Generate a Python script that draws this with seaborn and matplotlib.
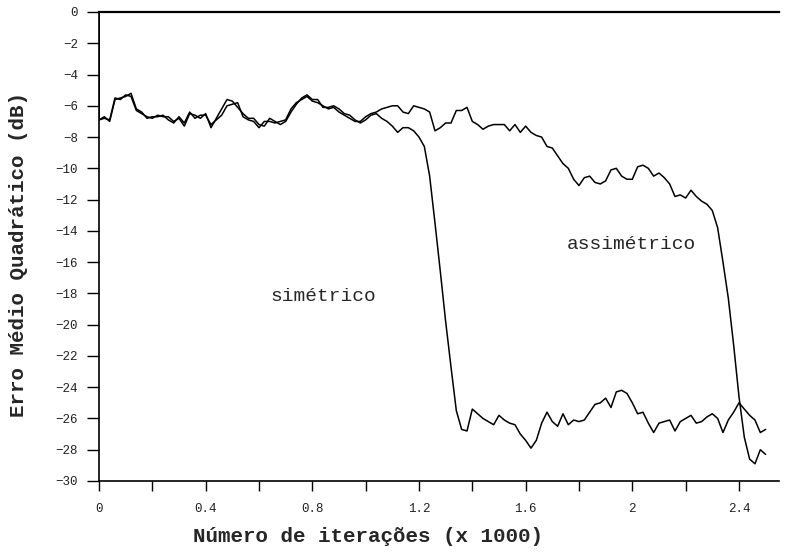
import numpy as np
import pandas as pd
import matplotlib
matplotlib.use("Agg")
import matplotlib.pyplot as plt
import seaborn as sns
from matplotlib.ticker import MultipleLocator, FuncFormatter

# ---- data (dB vs iterations x1000) ----
passo = 0.02
iteracoes = np.round(np.arange(0, 2.5 + passo / 2, passo), 2)

simetrico_inicio = [-6.9, -6.8, -6.9, -5.5, -5.6, -5.3, -5.4, -6.3, -6.5, -6.7,
                    -6.8, -6.6, -6.7, -6.7, -7.0, -6.8, -7.3, -6.5, -6.6, -6.8,
                    -6.5, -7.4, -6.8, -6.2, -5.6, -5.7, -6.1, -6.5, -6.8, -6.8,
                    -7.2, -7.3, -6.8, -7.0, -7.2, -7.0, -6.4, -5.9, -5.5, -5.3,
                    -5.6, -5.6, -6.1, -6.1, -6.0, -6.2, -6.5, -6.6, -6.9, -7.1,
                    -6.9, -6.6, -6.5]
simetrico_fim = [-6.8, -7.0, -7.3, -7.7, -7.4, -7.4, -7.6, -8.0, -8.6, -10.5,
                 -13.5, -16.6, -19.8, -22.7, -25.5, -26.7, -26.8, -25.4, -25.7, -26.0,
                 -26.2, -26.4, -25.8, -26.1, -26.3, -26.4, -27.0, -27.4, -27.9, -27.4,
                 -26.3, -25.6, -26.2, -26.5, -25.7, -26.4, -26.1, -26.2, -26.1, -25.6,
                 -25.1, -25.0, -24.7, -25.3, -24.3, -24.2, -24.4, -25.0, -25.7, -25.6,
                 -26.3, -26.9, -26.3, -26.2, -26.1, -26.8, -26.2, -26.0, -25.8, -26.3,
                 -26.2, -25.9, -25.7, -26.0, -26.9, -26.1, -25.6, -25.0, -25.4, -25.8,
                 -26.1, -26.9, -26.7]

assimetrico_inicio = [-6.9, -6.7, -7.0, -5.6, -5.5, -5.4, -5.2, -6.2, -6.4, -6.8,
                      -6.7, -6.7, -6.6, -6.9, -7.1, -6.7, -7.1, -6.4, -6.8, -6.6,
                      -6.6, -7.2, -6.9, -6.6, -6.0, -5.9, -5.8, -6.7, -6.9, -7.0,
                      -7.4, -7.0, -7.0, -7.1, -7.0, -6.9, -6.2, -5.8, -5.6, -5.4,
                      -5.7, -5.8, -6.0, -6.2, -6.1, -6.4, -6.6, -6.8, -7.0, -7.0,
                      -6.7, -6.5, -6.4]
assimetrico_fim = [-6.2, -6.1, -6.0, -6.0, -6.4, -6.5, -6.0, -6.1, -6.2, -6.4,
                   -7.6, -7.4, -7.1, -7.1, -6.3, -6.3, -6.1, -7.0, -7.2, -7.5,
                   -7.3, -7.2, -7.2, -7.2, -7.6, -7.2, -7.7, -7.3, -7.7, -7.9,
                   -8.0, -8.6, -8.7, -9.2, -9.7, -10.0, -10.7, -11.1, -10.6, -10.5,
                   -10.9, -11.0, -10.8, -10.1, -10.0, -10.5, -10.7, -10.7, -9.9, -9.8,
                   -10.0, -10.5, -10.3, -10.6, -11.0, -11.8, -11.7, -11.9, -11.4, -11.8,
                   -12.1, -12.3, -12.7, -13.8, -16.0, -18.3, -21.3, -24.6, -27.2, -28.6,
                   -28.9, -28.0, -28.3]

erro_inicial = 0.0          # both curves start at 0 dB
x_ticks = [0, 0.4, 0.8, 1.2, 1.6, 2.0, 2.4]
rotulo_sim = "simétrico"
rotulo_assim = "assimétrico"

# ---- build long table ----
partes = []
for nome, ini, fim in [(rotulo_sim, simetrico_inicio, simetrico_fim),
                       (rotulo_assim, assimetrico_inicio, assimetrico_fim)]:
    vals = [erro_inicial] + ini + fim
    xs = [0.0] + list(iteracoes)
    partes.append(pd.DataFrame({"iter": xs, "erro": vals, "curva": nome,
                                "ordem": range(len(xs))}))
df = pd.concat(partes, ignore_index=True)

# ---- figure ----
sns.set_style("white")
plt.rcParams["font.family"] = ["Liberation Mono", "DejaVu Sans Mono"]

fig = plt.figure(figsize=(7.87, 5.58), dpi=100)
ax = fig.add_axes([0.1258, 0.138, 0.864, 0.8405])

sns.lineplot(data=df, x="iter", y="erro", hue="curva",
             palette={rotulo_sim: "black", rotulo_assim: "black"},
             estimator=None, sort=False, legend=False, lw=1.1, ax=ax)

ax.set_xlim(0, 2.55)
ax.set_ylim(-30, 0)

ax.xaxis.set_major_locator(MultipleLocator(0.4))
ax.xaxis.set_minor_locator(MultipleLocator(0.2))
ax.yaxis.set_major_locator(MultipleLocator(2))
fmt = FuncFormatter(lambda v, p: ("%g" % round(v, 2)).replace("-", "\u2212"))
ax.xaxis.set_major_formatter(fmt)
ax.yaxis.set_major_formatter(fmt)

ax.tick_params(axis="y", which="both", direction="out", length=9, width=1,
               color="black", labelsize=9, labelcolor="#222222", pad=6, left=True)
ax.tick_params(axis="x", which="both", direction="out", length=7, width=1,
               color="black", labelsize=9, labelcolor="#222222", pad=9, bottom=True)

for s in ["left", "top", "bottom"]:
    ax.spines[s].set_visible(True)
    ax.spines[s].set_color("black")
ax.spines["top"].set_linewidth(1.6)
ax.spines["bottom"].set_linewidth(1.2)
ax.spines["left"].set_linewidth(1.2)
ax.spines["right"].set_visible(False)

ax.set_xlabel("Número de iterações (x 1000)", fontsize=15, fontweight="bold")
ax.set_ylabel("Erro Médio Quadrático (dB)", fontsize=15, fontweight="bold")
ax.xaxis.label.set_va("center")
ax.yaxis.label.set_va("center")
ax.xaxis.set_label_coords(0.396, -0.119)
ax.yaxis.set_label_coords(-0.119, 0.482)

ax.text(0.84, -18.2, rotulo_sim, fontsize=14, ha="center", va="center")
ax.text(1.995, -14.9, rotulo_assim, fontsize=14, ha="center", va="center")

fig.savefig("out.png", dpi=100, facecolor="white")
